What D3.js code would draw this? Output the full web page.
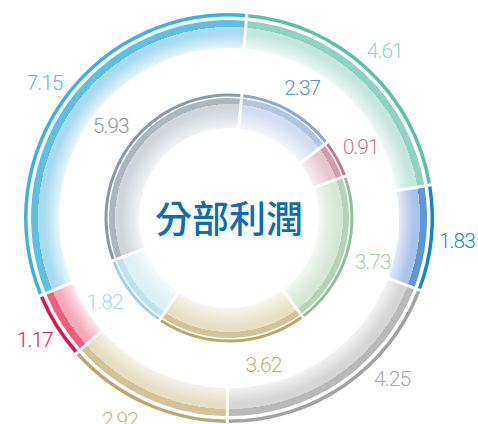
<!DOCTYPE html>
<html>
<head>
<meta charset="utf-8">
<script src="https://cdn.jsdelivr.net/npm/d3@7"></script>
<style>
  body { margin: 0; background: #fff; }
  svg { display: block; }
</style>
</head>
<body>
<div id="container"></div>
<script>
	// outer ring, clockwise from the top
	var outerValues = [4.61, 1.83, 4.25, 2.92, 1.17, 7.15]
	var outerRim = ["#5dbfa9", "#1b84c9", "#a3a3a3", "#bba86e", "#e0134e", "#3cb3dc"]
	var outerDark = ["#90d2c2", "#5e97d8", "#b9b9b9", "#d2c498", "#ec5e7b", "#5fbfe2"]
	var outerMid = ["#c4e7dd", "#a9c3ea", "#d6d6d6", "#e6dfc3", "#f5a9ba", "#a9daee"]
	var outerLight = ["#eef8f5", "#e3ebf8", "#f3f3f3", "#f6f3ea", "#fde6eb", "#e6f4fa"]
	var outerText = ["#8fd3cb", "#1f88ce", "#aaaaaa", "#c8b98a", "#e2185a", "#5cbde2"]

	// inner ring, clockwise from the top
	var innerValues = [2.37, 0.91, 3.73, 3.62, 1.82, 5.93]
	var innerRim = ["#8fa7d5", "#c6758e", "#96bf9e", "#bba86e", "#9ed4e4", "#8d9aa5"]
	var innerDark = ["#b3c3e4", "#d59aac", "#b6d3ba", "#d2c498", "#bfe3ed", "#abb6be"]
	var innerMid = ["#d3ddf1", "#e8c6d0", "#d6e7d7", "#e7e0c6", "#dcf0f5", "#d0d6db"]
	var innerLight = ["#f4f6fc", "#f8edf1", "#f4f9f4", "#f8f6ee", "#f4fafc", "#f1f3f5"]
	var innerText = ["#5199d5", "#c57a92", "#a8cfa8", "#c2b07a", "#a9dcea", "#8e9aa4"]

	var title = "分部利潤"

	var width = 478
	var height = 424
	var cx = 229, cy = 218
	var deg = Math.PI / 180

	var svg = d3.select("#container")
		.append("svg")
		.attr("width", width)
		.attr("height", height)

	var defs = svg.append("defs")
	var g = svg.append("g").attr("transform", "translate(" + cx + "," + cy + ")")

	var fmt = d3.format(".2f")

	function drawRing(name, values, rim, dark, mid, light, textCol, opts) {
		var pie = d3.pie().sort(null)
			.startAngle(opts.start * deg)
			.endAngle(opts.start * deg + 2 * Math.PI)
		var arcs = pie(values)

		var band = d3.arc()
			.innerRadius(opts.r0)
			.outerRadius(opts.r1)
			.padRadius(opts.rim1)
			.padAngle(3 / opts.rim1)
		var rimArc = d3.arc()
			.innerRadius(opts.rim0)
			.outerRadius(opts.rim1)
			.padRadius(opts.rim1)
			.padAngle(3 / opts.rim1)

		// one radial gradient per segment
		arcs.forEach(function(d, i) {
			var R = opts.r1
			var grad = defs.append("radialGradient")
				.attr("id", name + i)
				.attr("gradientUnits", "userSpaceOnUse")
				.attr("cx", 0).attr("cy", 0).attr("r", R)
			grad.append("stop").attr("offset", opts.r0 / R).attr("stop-color", light[i])
			grad.append("stop").attr("offset", (R - opts.midW) / R).attr("stop-color", mid[i])
			grad.append("stop").attr("offset", (R - opts.darkW) / R).attr("stop-color", mid[i])
			grad.append("stop").attr("offset", (R - opts.darkW) / R).attr("stop-color", dark[i])
			grad.append("stop").attr("offset", 1).attr("stop-color", dark[i])
		})

		g.selectAll("path." + name + "band")
			.data(arcs)
			.enter()
			.append("path")
			.attr("class", name + "band")
			.attr("d", band)
			.attr("fill", function(d, i) { return "url(#" + name + i + ")" })

		g.selectAll("path." + name + "rim")
			.data(arcs)
			.enter()
			.append("path")
			.attr("class", name + "rim")
			.attr("d", rimArc)
			.attr("fill", function(d, i) { return rim[i] })

		// value labels outside each segment
		g.selectAll("text." + name + "lbl")
			.data(arcs)
			.enter()
			.append("text")
			.attr("class", name + "lbl")
			.attr("transform", function(d, i) {
				var a = (d.startAngle + d.endAngle) / 2 + (opts.nudge[i] || 0) * deg
				return "translate(" + (opts.labelR * Math.sin(a)) + "," + (-opts.labelR * Math.cos(a)) + ")"
			})
			.attr("text-anchor", "middle")
			.attr("dy", "0.36em")
			.attr("font-family", "Roboto, 'DejaVu Sans', sans-serif")
			.attr("font-weight", 300)
			.attr("font-size", 21)
			.attr("letter-spacing", -1)
			.attr("fill", function(d, i) { return textCol[i] })
			.text(function(d) { return fmt(d.data) })
	}

	drawRing("o", outerValues, outerRim, outerDark, outerMid, outerLight, outerText, {
		start: 5, r0: 170, r1: 198, rim0: 201.5, rim1: 205,
		darkW: 7, midW: 13, labelR: 229,
		nudge: {2: -11, 3: 4}
	})

	drawRing("i", innerValues, innerRim, innerDark, innerMid, innerLight, innerText, {
		start: 6, r0: 90, r1: 120, rim0: 121.5, rim1: 124.5,
		darkW: 6, midW: 12, labelR: 150,
		nudge: {3: -12, 4: 4}
	})

	g.append("text")
		.attr("text-anchor", "middle")
		.attr("y", 2)
		.attr("dy", "0.36em")
		.attr("font-family", "'Noto Sans CJK TC', 'Noto Sans CJK SC', sans-serif")
		.attr("font-weight", 500)
		.attr("font-size", 37)
		.attr("fill", "#0c6db3")
		.text(title)
</script>
</body>
</html>
